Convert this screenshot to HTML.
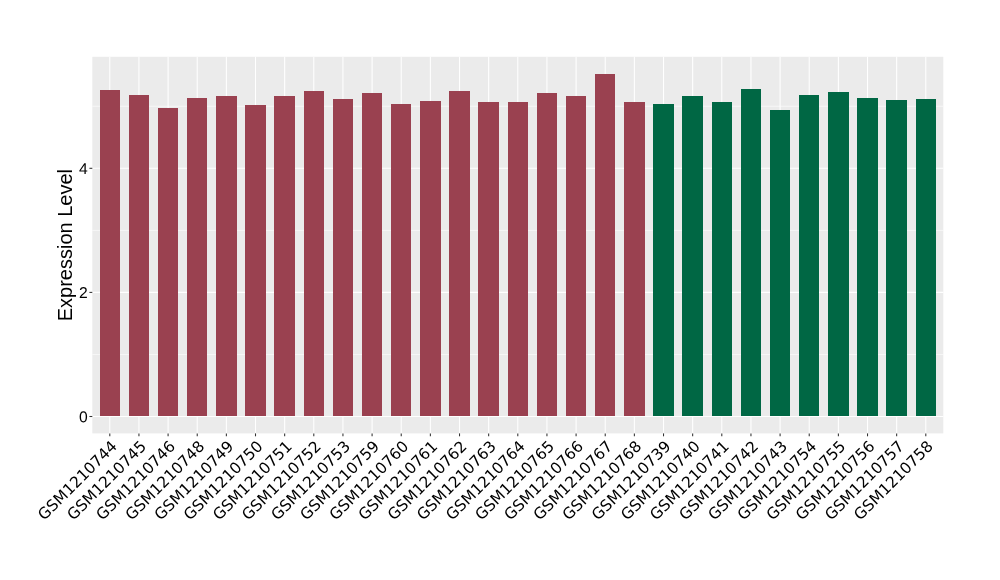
<!DOCTYPE html>
<html lang="en">
<head>
<meta charset="utf-8">
<title>Expression Level</title>
<style>
html,body{margin:0;padding:0;background:#fff;}
body{width:1000px;height:580px;overflow:hidden;}
svg{display:block;}
.xl{font-family:"DejaVu Sans","Liberation Sans",sans-serif;font-size:15.5px;fill:#000;text-anchor:end;}
.yl{font-family:"Liberation Sans",Arial,sans-serif;font-size:15.7px;fill:#000;text-anchor:end;}
.yt{font-family:"Liberation Sans",Arial,sans-serif;font-size:20px;fill:#000;text-anchor:middle;}
</style>
</head>
<body>
<svg width="1000" height="580" viewBox="0 0 1000 580">
<rect x="0" y="0" width="1000" height="580" fill="#fff"/>
<rect x="92.3" y="56.8" width="851.0" height="376.59999999999997" fill="#EBEBEB"/>
<g stroke="#FFFFFF" stroke-width="0.6" fill="none">
<line x1="92.3" x2="943.3" y1="354.45" y2="354.45"/>
<line x1="92.3" x2="943.3" y1="230.35" y2="230.35"/>
<line x1="92.3" x2="943.3" y1="106.25" y2="106.25"/>
</g>
<g stroke="#FFFFFF" stroke-width="1.07" fill="none">
<line x1="92.3" x2="943.3" y1="416.50" y2="416.50"/>
<line x1="92.3" x2="943.3" y1="292.40" y2="292.40"/>
<line x1="92.3" x2="943.3" y1="168.30" y2="168.30"/>
<line x1="109.80" x2="109.80" y1="56.8" y2="433.4"/>
<line x1="138.94" x2="138.94" y1="56.8" y2="433.4"/>
<line x1="168.09" x2="168.09" y1="56.8" y2="433.4"/>
<line x1="197.23" x2="197.23" y1="56.8" y2="433.4"/>
<line x1="226.37" x2="226.37" y1="56.8" y2="433.4"/>
<line x1="255.51" x2="255.51" y1="56.8" y2="433.4"/>
<line x1="284.66" x2="284.66" y1="56.8" y2="433.4"/>
<line x1="313.80" x2="313.80" y1="56.8" y2="433.4"/>
<line x1="342.94" x2="342.94" y1="56.8" y2="433.4"/>
<line x1="372.09" x2="372.09" y1="56.8" y2="433.4"/>
<line x1="401.23" x2="401.23" y1="56.8" y2="433.4"/>
<line x1="430.37" x2="430.37" y1="56.8" y2="433.4"/>
<line x1="459.52" x2="459.52" y1="56.8" y2="433.4"/>
<line x1="488.66" x2="488.66" y1="56.8" y2="433.4"/>
<line x1="517.80" x2="517.80" y1="56.8" y2="433.4"/>
<line x1="546.94" x2="546.94" y1="56.8" y2="433.4"/>
<line x1="576.09" x2="576.09" y1="56.8" y2="433.4"/>
<line x1="605.23" x2="605.23" y1="56.8" y2="433.4"/>
<line x1="634.37" x2="634.37" y1="56.8" y2="433.4"/>
<line x1="663.52" x2="663.52" y1="56.8" y2="433.4"/>
<line x1="692.66" x2="692.66" y1="56.8" y2="433.4"/>
<line x1="721.80" x2="721.80" y1="56.8" y2="433.4"/>
<line x1="750.95" x2="750.95" y1="56.8" y2="433.4"/>
<line x1="780.09" x2="780.09" y1="56.8" y2="433.4"/>
<line x1="809.23" x2="809.23" y1="56.8" y2="433.4"/>
<line x1="838.38" x2="838.38" y1="56.8" y2="433.4"/>
<line x1="867.52" x2="867.52" y1="56.8" y2="433.4"/>
<line x1="896.66" x2="896.66" y1="56.8" y2="433.4"/>
<line x1="925.80" x2="925.80" y1="56.8" y2="433.4"/>
</g>
<g shape-rendering="crispEdges">
<rect x="100" y="90" width="20" height="326" fill="#9A4150"/>
<rect x="129" y="95" width="20" height="321" fill="#9A4150"/>
<rect x="158" y="108" width="20" height="308" fill="#9A4150"/>
<rect x="187" y="98" width="20" height="318" fill="#9A4150"/>
<rect x="216" y="96" width="21" height="320" fill="#9A4150"/>
<rect x="245" y="105" width="21" height="311" fill="#9A4150"/>
<rect x="274" y="96" width="21" height="320" fill="#9A4150"/>
<rect x="304" y="91" width="20" height="325" fill="#9A4150"/>
<rect x="333" y="99" width="20" height="317" fill="#9A4150"/>
<rect x="362" y="93" width="20" height="323" fill="#9A4150"/>
<rect x="391" y="104" width="20" height="312" fill="#9A4150"/>
<rect x="420" y="101" width="21" height="315" fill="#9A4150"/>
<rect x="449" y="91" width="21" height="325" fill="#9A4150"/>
<rect x="478" y="102" width="21" height="314" fill="#9A4150"/>
<rect x="508" y="102" width="20" height="314" fill="#9A4150"/>
<rect x="537" y="93" width="20" height="323" fill="#9A4150"/>
<rect x="566" y="96" width="20" height="320" fill="#9A4150"/>
<rect x="595" y="74" width="20" height="342" fill="#9A4150"/>
<rect x="624" y="102" width="21" height="314" fill="#9A4150"/>
<rect x="653" y="104" width="21" height="312" fill="#006744"/>
<rect x="682" y="96" width="21" height="320" fill="#006744"/>
<rect x="712" y="102" width="20" height="314" fill="#006744"/>
<rect x="741" y="89" width="20" height="327" fill="#006744"/>
<rect x="770" y="110" width="20" height="306" fill="#006744"/>
<rect x="799" y="95" width="20" height="321" fill="#006744"/>
<rect x="828" y="92" width="21" height="324" fill="#006744"/>
<rect x="857" y="98" width="21" height="318" fill="#006744"/>
<rect x="886" y="100" width="21" height="316" fill="#006744"/>
<rect x="916" y="99" width="20" height="317" fill="#006744"/>
</g>
<g stroke="#333333" stroke-width="1.07" fill="none">
<line x1="89.39999999999999" x2="92.3" y1="416.50" y2="416.50"/>
<line x1="89.39999999999999" x2="92.3" y1="292.40" y2="292.40"/>
<line x1="89.39999999999999" x2="92.3" y1="168.30" y2="168.30"/>
<line x1="109.80" x2="109.80" y1="433.4" y2="436.29999999999995"/>
<line x1="138.94" x2="138.94" y1="433.4" y2="436.29999999999995"/>
<line x1="168.09" x2="168.09" y1="433.4" y2="436.29999999999995"/>
<line x1="197.23" x2="197.23" y1="433.4" y2="436.29999999999995"/>
<line x1="226.37" x2="226.37" y1="433.4" y2="436.29999999999995"/>
<line x1="255.51" x2="255.51" y1="433.4" y2="436.29999999999995"/>
<line x1="284.66" x2="284.66" y1="433.4" y2="436.29999999999995"/>
<line x1="313.80" x2="313.80" y1="433.4" y2="436.29999999999995"/>
<line x1="342.94" x2="342.94" y1="433.4" y2="436.29999999999995"/>
<line x1="372.09" x2="372.09" y1="433.4" y2="436.29999999999995"/>
<line x1="401.23" x2="401.23" y1="433.4" y2="436.29999999999995"/>
<line x1="430.37" x2="430.37" y1="433.4" y2="436.29999999999995"/>
<line x1="459.52" x2="459.52" y1="433.4" y2="436.29999999999995"/>
<line x1="488.66" x2="488.66" y1="433.4" y2="436.29999999999995"/>
<line x1="517.80" x2="517.80" y1="433.4" y2="436.29999999999995"/>
<line x1="546.94" x2="546.94" y1="433.4" y2="436.29999999999995"/>
<line x1="576.09" x2="576.09" y1="433.4" y2="436.29999999999995"/>
<line x1="605.23" x2="605.23" y1="433.4" y2="436.29999999999995"/>
<line x1="634.37" x2="634.37" y1="433.4" y2="436.29999999999995"/>
<line x1="663.52" x2="663.52" y1="433.4" y2="436.29999999999995"/>
<line x1="692.66" x2="692.66" y1="433.4" y2="436.29999999999995"/>
<line x1="721.80" x2="721.80" y1="433.4" y2="436.29999999999995"/>
<line x1="750.95" x2="750.95" y1="433.4" y2="436.29999999999995"/>
<line x1="780.09" x2="780.09" y1="433.4" y2="436.29999999999995"/>
<line x1="809.23" x2="809.23" y1="433.4" y2="436.29999999999995"/>
<line x1="838.38" x2="838.38" y1="433.4" y2="436.29999999999995"/>
<line x1="867.52" x2="867.52" y1="433.4" y2="436.29999999999995"/>
<line x1="896.66" x2="896.66" y1="433.4" y2="436.29999999999995"/>
<line x1="925.80" x2="925.80" y1="433.4" y2="436.29999999999995"/>
</g>
<text class="yl" transform="translate(87.7,422.20) rotate(0.05)" x="0" y="0">0</text>
<text class="yl" transform="translate(87.7,298.10) rotate(0.05)" x="0" y="0">2</text>
<text class="yl" transform="translate(87.7,174.00) rotate(0.05)" x="0" y="0">4</text>
<text class="xl" transform="translate(118.00,447.25) rotate(-45)" x="0" y="0">GSM1210744</text>
<text class="xl" transform="translate(147.14,447.25) rotate(-45)" x="0" y="0">GSM1210745</text>
<text class="xl" transform="translate(176.29,447.25) rotate(-45)" x="0" y="0">GSM1210746</text>
<text class="xl" transform="translate(205.43,447.25) rotate(-45)" x="0" y="0">GSM1210748</text>
<text class="xl" transform="translate(234.57,447.25) rotate(-45)" x="0" y="0">GSM1210749</text>
<text class="xl" transform="translate(263.71,447.25) rotate(-45)" x="0" y="0">GSM1210750</text>
<text class="xl" transform="translate(292.86,447.25) rotate(-45)" x="0" y="0">GSM1210751</text>
<text class="xl" transform="translate(322.00,447.25) rotate(-45)" x="0" y="0">GSM1210752</text>
<text class="xl" transform="translate(351.14,447.25) rotate(-45)" x="0" y="0">GSM1210753</text>
<text class="xl" transform="translate(380.29,447.25) rotate(-45)" x="0" y="0">GSM1210759</text>
<text class="xl" transform="translate(409.43,447.25) rotate(-45)" x="0" y="0">GSM1210760</text>
<text class="xl" transform="translate(438.57,447.25) rotate(-45)" x="0" y="0">GSM1210761</text>
<text class="xl" transform="translate(467.72,447.25) rotate(-45)" x="0" y="0">GSM1210762</text>
<text class="xl" transform="translate(496.86,447.25) rotate(-45)" x="0" y="0">GSM1210763</text>
<text class="xl" transform="translate(526.00,447.25) rotate(-45)" x="0" y="0">GSM1210764</text>
<text class="xl" transform="translate(555.14,447.25) rotate(-45)" x="0" y="0">GSM1210765</text>
<text class="xl" transform="translate(584.29,447.25) rotate(-45)" x="0" y="0">GSM1210766</text>
<text class="xl" transform="translate(613.43,447.25) rotate(-45)" x="0" y="0">GSM1210767</text>
<text class="xl" transform="translate(642.57,447.25) rotate(-45)" x="0" y="0">GSM1210768</text>
<text class="xl" transform="translate(671.72,447.25) rotate(-45)" x="0" y="0">GSM1210739</text>
<text class="xl" transform="translate(700.86,447.25) rotate(-45)" x="0" y="0">GSM1210740</text>
<text class="xl" transform="translate(730.00,447.25) rotate(-45)" x="0" y="0">GSM1210741</text>
<text class="xl" transform="translate(759.15,447.25) rotate(-45)" x="0" y="0">GSM1210742</text>
<text class="xl" transform="translate(788.29,447.25) rotate(-45)" x="0" y="0">GSM1210743</text>
<text class="xl" transform="translate(817.43,447.25) rotate(-45)" x="0" y="0">GSM1210754</text>
<text class="xl" transform="translate(846.58,447.25) rotate(-45)" x="0" y="0">GSM1210755</text>
<text class="xl" transform="translate(875.72,447.25) rotate(-45)" x="0" y="0">GSM1210756</text>
<text class="xl" transform="translate(904.86,447.25) rotate(-45)" x="0" y="0">GSM1210757</text>
<text class="xl" transform="translate(934.00,447.25) rotate(-45)" x="0" y="0">GSM1210758</text>
<text class="yt" transform="translate(71.55,245.1) rotate(-90)" x="0" y="0">Expression Level</text>
</svg>
</body>
</html>
